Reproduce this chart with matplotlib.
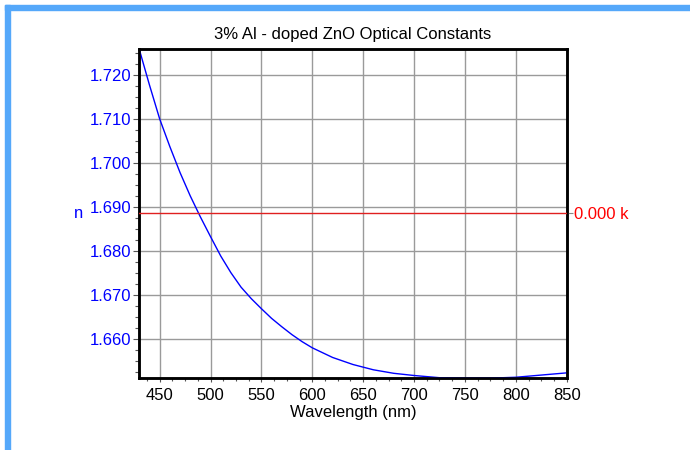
import numpy as np
import matplotlib
matplotlib.use('Agg')
import matplotlib.pyplot as plt
from matplotlib.patches import Rectangle
from matplotlib.ticker import MultipleLocator, FormatStrFormatter

plt.rcParams['font.family'] = ['Liberation Sans', 'DejaVu Sans']

# refractive index n
wavelength = [430, 440, 450, 460, 470, 480, 490, 500, 510, 520, 530, 540, 550,
              560, 570, 580, 590, 600, 620, 640, 660, 680, 700, 725, 750, 775,
              800, 825, 850]
n_values = [1.7258, 1.7177, 1.7100, 1.7037, 1.6978, 1.6925, 1.6877, 1.6832,
            1.6788, 1.6750, 1.6717, 1.6691, 1.6668, 1.6646, 1.6627, 1.6609,
            1.6593, 1.6579, 1.6557, 1.6541, 1.6529, 1.6521, 1.6516, 1.6511,
            1.6510, 1.6510, 1.6512, 1.6517, 1.6522]
# extinction coefficient k (flat zero)
k_values = [0.0] * len(wavelength)

fig = plt.figure(figsize=(6.9, 4.5), dpi=100)
W, H = 690, 450

# light blue frame on top and left
frame_col = '#55a8fa'
fig.patches.append(Rectangle((5 / W, 1 - 10 / H), 1 - 5 / W, 5 / H,
                             transform=fig.transFigure, color=frame_col, zorder=0))
fig.patches.append(Rectangle((5 / W, 0), 5 / W, 1 - 5 / H,
                             transform=fig.transFigure, color=frame_col, zorder=0))

left, right, bottom, top = 139.3, 566.7, 377.7, 49.0
ax = fig.add_axes([left / W, 1 - bottom / H, (right - left) / W, (bottom - top) / H])

ax.plot(wavelength, n_values, color='blue', linewidth=1.0, zorder=3)
ax.set_xlim(430, 850)
ax.set_ylim(1.6511, 1.7259)

ax.xaxis.set_major_locator(MultipleLocator(50))
ax.xaxis.set_minor_locator(MultipleLocator(12.5))
ax.yaxis.set_major_locator(MultipleLocator(0.01))
ax.yaxis.set_minor_locator(MultipleLocator(0.0025))
ax.yaxis.set_major_formatter(FormatStrFormatter('%.3f'))

ax.grid(True, which='major', color='#9a9a9a', linewidth=1.0)
ax.set_axisbelow(True)

ax.tick_params(axis='x', which='major', length=3, width=0.8, color='#555555',
               labelsize=12, pad=4.5)
ax.tick_params(axis='x', which='minor', length=2, width=0.8, color='#555555')
ax.tick_params(axis='y', which='major', length=4, width=0.8, color='#555555',
               labelsize=12, labelcolor='blue', pad=1.5)
ax.tick_params(axis='y', which='minor', length=3, width=0.8, color='#555555')

for s in ax.spines.values():
    s.set_linewidth(1.8)
    s.set_color('black')

ax.set_xlabel('Wavelength (nm)', fontsize=12, labelpad=1)
ax.text(-0.143, 0.486, 'n', transform=ax.transAxes, ha='center', va='baseline',
        color='blue', fontsize=12)
ax.set_title('3% Al - doped ZnO Optical Constants', fontsize=12, pad=7)

# k on a second axis
ax2 = ax.twinx()
ax2.plot(wavelength, k_values, color='#e02020', linewidth=1.0, zorder=4)
ax2.set_ylim(-1.0, 1.0)
ax2.set_yticks([0.0])
ax2.set_yticklabels(['0.000 k'])
ax2.tick_params(axis='y', length=4, width=0.8, color='#888888', labelsize=12,
                labelcolor='red', pad=1.5)
for s in ax2.spines.values():
    s.set_linewidth(1.8)

fig.savefig('out.png', dpi=100)
